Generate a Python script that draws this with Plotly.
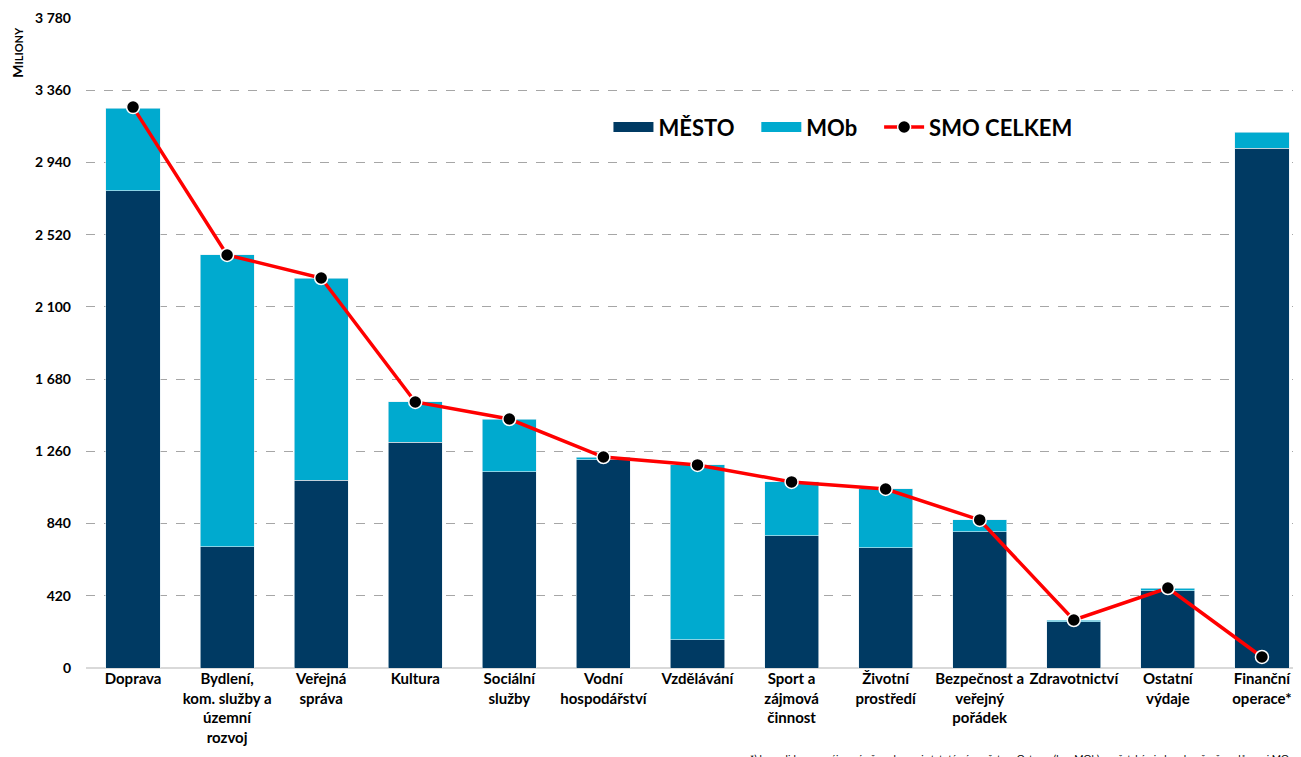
import plotly.graph_objects as go

categories = ["Doprava", "Bydlení,<br>kom. služby a<br>územní<br>rozvoj", "Veřejná<br>správa", "Kultura",
              "Sociální<br>služby", "Vodní<br>hospodářství", "Vzdělávání", "Sport a<br>zájmová<br>činnost",
              "Životní<br>prostředí", "Bezpečnost a<br>veřejný<br>pořádek", "Zdravotnictví",
              "Ostatní<br>výdaje", "Finanční<br>operace*"]
mesto = [2774, 704, 1093, 1314, 1140, 1210, 163, 768, 698, 791, 268, 448, 3024]
mob = [482, 1698, 1175, 233, 308, 17, 1018, 314, 343, 70, 11, 17, 93]
smo_celkem = [3262, 2402, 2268, 1547, 1448, 1227, 1181, 1082, 1041, 861, 279, 465, 64]
y_ticks = [0, 420, 840, 1260, 1680, 2100, 2520, 2940, 3360, 3780]
y_tick_text = ["0", "420", "840", "1 260", "1 680", "2 100", "2 520", "2 940", "3 360", "3 780"]

C_MESTO = "#003A63"
C_MOB = "#00AACF"
x = list(range(len(categories)))
FONT = "Lato"
SP = "&nbsp;" * 3

fig = go.Figure()
fig.add_trace(go.Bar(x=x, y=mesto, name="MĚSTO", showlegend=False,
                     marker=dict(color=C_MESTO, line=dict(color="#E6EEF3", width=0.6)), width=0.575))
fig.add_trace(go.Bar(x=x, y=mob, name="MOb", showlegend=False,
                     marker=dict(color=C_MOB, line=dict(color="#E6EEF3", width=0.6)), width=0.575))
fig.add_trace(go.Scatter(x=x, y=smo_celkem, name="SMO CELKEM", mode="lines+markers", showlegend=False,
                         line=dict(color="#FF0000", width=3.5),
                         marker=dict(color="black", size=13, line=dict(color="white", width=1.5))))
# legend entries (wide rectangles like the reference)
fig.add_trace(go.Scatter(x=[None], y=[None], mode="lines", name="<b>MĚSTO</b>" + SP,
                         line=dict(color=C_MESTO, width=15)))
fig.add_trace(go.Scatter(x=[None], y=[None], mode="lines", name="<b>MOb</b>" + SP,
                         line=dict(color=C_MOB, width=15)))
fig.add_trace(go.Scatter(x=[None], y=[None], mode="lines+markers", name="<b>SMO CELKEM</b>",
                         line=dict(color="#FF0000", width=3.5),
                         marker=dict(color="black", size=13, line=dict(color="white", width=1.5))))

fig.update_layout(
    barmode="stack",
    width=1293, height=749,
    margin=dict(l=78, r=0, t=10, b=89),
    plot_bgcolor="white", paper_bgcolor="white",
    font=dict(family=FONT, color="black", size=14),
    legend=dict(orientation="h", x=0.43, y=0.832, xanchor="left", yanchor="middle",
                font=dict(family=FONT, size=22, color="black"), bgcolor="rgba(0,0,0,0)",
                itemwidth=40, traceorder="normal"),
    showlegend=True,
    xaxis=dict(tickmode="array", tickvals=x, ticktext=["<b>%s</b>" % c for c in categories],
               range=[-0.5, 12.415], showgrid=False, zeroline=False, showline=False,
               ticks="", tickfont=dict(size=15, family=FONT), tickangle=0, automargin=False),
    yaxis=dict(range=[0, 3780], tickmode="array", tickvals=y_ticks,
               ticktext=["<b>%s</b>" % t for t in y_tick_text],
               showgrid=True, gridcolor="#A6A6A6", griddash="dash", gridwidth=1,
               zeroline=True, zerolinecolor="#D9D9D9", zerolinewidth=2,
               showline=False, ticks="", ticklabelstandoff=14, tickfont=dict(size=14, family=FONT),
               automargin=False),
    bargap=0.43,
)

fig.add_annotation(text="<b>M<span style='font-size:11px'>ILIONY</span></b>", xref="paper", yref="paper",
                   x=-0.056, y=0.948, textangle=-90, showarrow=False, xanchor="center", yanchor="middle",
                   font=dict(size=14, family=FONT, color="black"))
fig.add_annotation(text="*) konsolidace o vzájemné převody mezi statutárním městem Ostrava (bez MOb) a městskými obvody, vč. převodů mezi MO",
                   xref="paper", yref="paper", x=(740 - 78) / 1215, y=-0.126, xanchor="left", yanchor="top",
                   showarrow=False, font=dict(size=10, family=FONT, color="black"))

fig.write_html("out.html")
